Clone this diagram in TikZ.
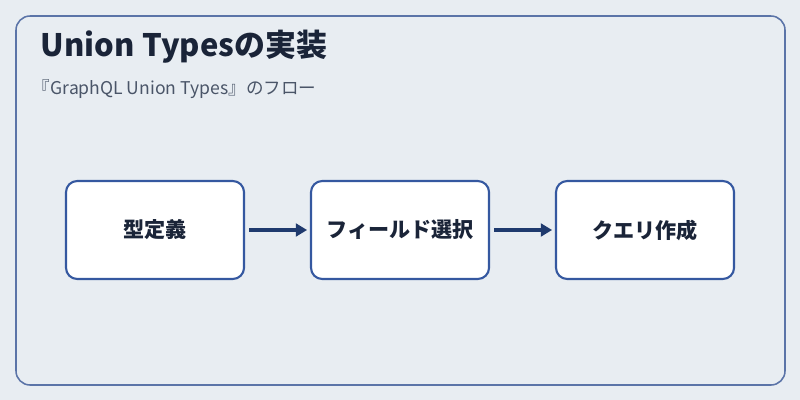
\documentclass[tikz,border=0pt]{standalone}
\usepackage{fontspec}
\setmainfont{Noto Sans CJK JP}
\usetikzlibrary{positioning}
\usetikzlibrary{arrows.meta}
\definecolor{bgcol}{HTML}{E8EDF2}
\definecolor{framecol}{HTML}{5B74A8}
\definecolor{boxcol}{HTML}{3558A0}
\definecolor{arrowcol}{HTML}{1F3A6E}
\definecolor{titlecol}{HTML}{1A2438}
\definecolor{subcol}{HTML}{4A5568}
\begin{document}
\begin{tikzpicture}[x=0.025cm,y=-0.025cm,
    stage/.style={draw=boxcol, line width=1.5pt, fill=white, rounded corners=8pt,
      minimum width=4.45cm, minimum height=2.45cm, font=\bfseries\fontsize{15}{17}\selectfont, text=titlecol},
    flow/.style={-{Triangle[length=8pt,width=9pt]}, line width=2.2pt, draw=arrowcol, shorten <=3pt, shorten >=2pt}]
            % background and frame
            \useasboundingbox (0,0) rectangle (800,400);
            \fill[bgcol] (0,0) rectangle (800,400);
            \draw[framecol, line width=1.1pt, rounded corners=10pt] (16,16) rectangle (785,385);
            \node[anchor=west, font=\bfseries\fontsize{22}{25}\selectfont, text=titlecol] (title) at (36,47) {Union Typesの実装};
            \node[anchor=west, font=\fontsize{12.5}{15}\selectfont, text=subcol] (subtitle) at (28,89) {『GraphQL Union Types』のフロー};

            % flow steps
            \node[stage] (define) at (155,230) {型定義};
            \node[stage] (select) at (400,230) {フィールド選択};
            \node[stage] (query) at (645,230) {クエリ作成};

            \draw[flow] (define) -- (select);
            \draw[flow] (select) -- (query);
        \end{tikzpicture}
\end{document}
